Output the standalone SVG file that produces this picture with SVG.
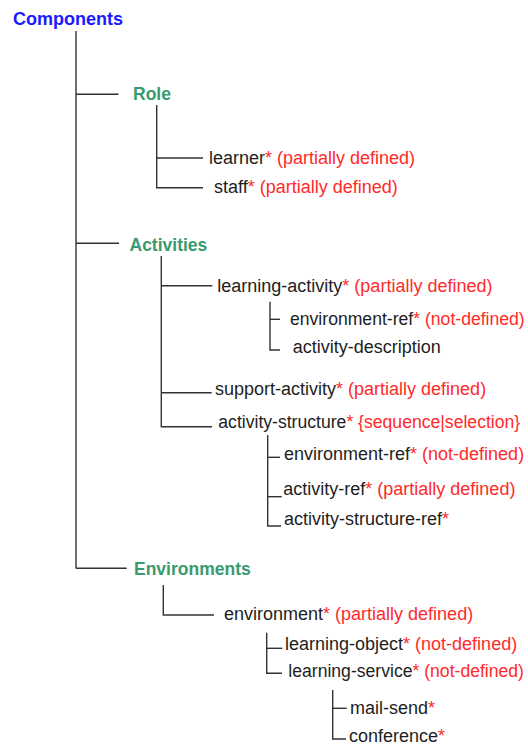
<svg xmlns="http://www.w3.org/2000/svg" width="528" height="745" viewBox="0 0 528 745">
<style>
text{font-family:"Liberation Sans",Arial,sans-serif;font-size:18px;fill:#1e1e1e}
.root{font-weight:bold;fill:#1a1aff;font-size:18px}
.head{font-weight:bold;fill:#3a9a70;font-size:17.5px}
.fit{font-size:17.6px}
.r{fill:#ff2a2a}
#connectors line,#connectors polyline{stroke:#333;stroke-width:1.4;fill:none}
</style>
<rect width="528" height="745" fill="#fff"/>
<g id="connectors">
<line x1="76" y1="31" x2="76" y2="568.5"/>
<line x1="76" y1="94.3" x2="118.5" y2="94.3"/>
<polyline points="156.7,105 156.7,187.7 203,187.7"/>
<line x1="156.7" y1="158" x2="203" y2="158"/>
<line x1="76" y1="243.3" x2="119" y2="243.3"/>
<polyline points="161.3,256 161.3,426.7 212,426.7"/>
<line x1="161.3" y1="285.7" x2="212.3" y2="285.7"/>
<polyline points="270,301.7 270,350 280,350"/>
<line x1="270" y1="319.3" x2="280" y2="319.3"/>
<line x1="161.3" y1="392.7" x2="211.7" y2="392.7"/>
<polyline points="267.7,435 267.7,526 281,526"/>
<line x1="267.7" y1="457.3" x2="280" y2="457.3"/>
<line x1="267.7" y1="496.7" x2="281.7" y2="496.7"/>
<polyline points="76,568.3 126.7,568.3"/>
<polyline points="163.3,585 163.3,615 214,615"/>
<polyline points="266.7,632.7 266.7,673.3 282,673.3"/>
<line x1="266.7" y1="648.3" x2="282.3" y2="648.3"/>
<polyline points="332.7,690 332.7,739 346,739"/>
<line x1="332.7" y1="708.3" x2="346.7" y2="708.3"/>
</g>
<g id="components"><text class="root" x="13" y="25">Components</text></g>
<g id="role"><text class="head" x="133" y="100">Role</text></g>
<g id="learner"><text x="209" y="164">learner<tspan class="r">* (partially defined)</tspan></text></g>
<g id="staff"><text x="214" y="193.3">staff<tspan class="r">* (partially defined)</tspan></text></g>
<g id="activities"><text class="head" x="129.5" y="250.7">Activities</text></g>
<g id="learning-activity"><text x="217.3" y="291.7">learning-activity<tspan class="r">* (partially defined)</tspan></text></g>
<g id="la-environment-ref"><text class="fit" x="290" y="325">environment-ref<tspan class="r">* (not-defined)</tspan></text></g>
<g id="activity-description"><text x="292.7" y="353.3">activity-description</text></g>
<g id="support-activity"><text x="215" y="395">support-activity<tspan class="r">* (partially defined)</tspan></text></g>
<g id="activity-structure"><text class="fit" x="218.3" y="428.3">activity-structure<tspan class="r">* {sequence|selection}</tspan></text></g>
<g id="as-environment-ref"><text x="284" y="459.5">environment-ref<tspan class="r">* (not-defined)</tspan></text></g>
<g id="activity-ref"><text x="283.3" y="495">activity-ref<tspan class="r">* (partially defined)</tspan></text></g>
<g id="activity-structure-ref"><text x="284" y="525">activity-structure-ref<tspan class="r">*</tspan></text></g>
<g id="environments"><text class="head" x="134" y="575">Environments</text></g>
<g id="environment"><text x="224" y="620">environment<tspan class="r">* (partially defined)</tspan></text></g>
<g id="learning-object"><text x="285" y="649.5">learning-object<tspan class="r">* (not-defined)</tspan></text></g>
<g id="learning-service"><text class="fit" x="288.3" y="676.7">learning-service<tspan class="r">* (not-defined)</tspan></text></g>
<g id="mail-send"><text x="350" y="713.5">mail-send<tspan class="r">*</tspan></text></g>
<g id="conference"><text x="349" y="741.7">conference<tspan class="r">*</tspan></text></g>
</svg>
